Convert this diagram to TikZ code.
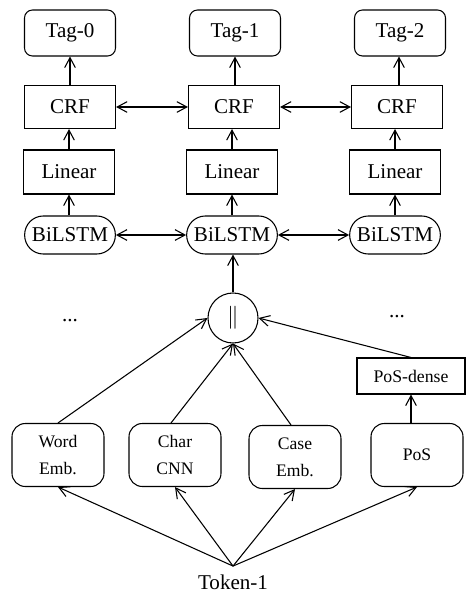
\documentclass[tikz,border=0pt]{standalone}
\usepackage{fontspec}
\setmainfont{Liberation Serif}
\usetikzlibrary{arrows.meta}
\begin{document}
\begin{tikzpicture}[x=0.75pt,y=-0.75pt,line width=0.8pt,
  >={Straight Barb[length=7.5pt,width=8pt,line width=0.8pt]},
  big/.style={font=\fontsize{15.8}{18}\selectfont},
  tagbox/.style={draw,big,rounded corners=6pt,minimum width=68.25pt,minimum height=34.5pt},
  crfbox/.style={draw,big,minimum width=68.25pt,minimum height=32.25pt},
  linbox/.style={draw,big,minimum width=68.25pt,minimum height=33pt},
  lstmbox/.style={draw,big,rounded corners=14pt,minimum width=68pt,minimum height=28.5pt,inner xsep=0pt},
  embbox/.style={draw,rounded corners=10pt,minimum width=69pt,minimum height=47.25pt,align=center,font=\fontsize{13.2}{20}\selectfont},
  densebox/.style={draw,minimum width=81pt,minimum height=27pt,font=\fontsize{13.3}{16}\selectfont},
  catnode/.style={draw,circle,minimum size=37.5pt,inner sep=0pt,font=\fontsize{17}{17}\selectfont},
  dotsnode/.style={big}
]
\useasboundingbox (0,0) rectangle (465,595);
% top rows
\node[tagbox] (tag0) at (70,33) {Tag-0};
\node[tagbox] (tag1) at (235,33) {Tag-1};
\node[tagbox] (tag2) at (400,33) {Tag-2};
\node[crfbox] (crf0) at (70,107) {CRF};
\node[crfbox] (crf1) at (234,107) {CRF};
\node[crfbox] (crf2) at (397,107) {CRF};
\node[linbox] (lin0) at (69,172) {Linear};
\node[linbox] (lin1) at (232,172) {Linear};
\node[linbox] (lin2) at (395,172) {Linear};
\node[lstmbox] (bi0) at (70,235) {BiLSTM};
\node[lstmbox] (bi1) at (232,235) {BiLSTM};
\node[lstmbox] (bi2) at (395,235) {BiLSTM};
% concat
\node[catnode] (cat) at (233,318) {$\|$};
\node[dotsnode] (dl) at (70,321) {...};
\node[dotsnode] (dr) at (397,317) {...};
\node[densebox] (posd) at (411,376) {PoS-dense};
% features
\node[embbox] (word) at (58,455) {Word\\Emb.};
\node[embbox] (char) at (175,455) {Char\\CNN};
\node[embbox] (case) at (295,457) {Case\\Emb.};
\node[embbox] (pos) at (417,455) {PoS};
\node[big,inner ysep=6pt] (tok) at (233,582) {Token-1};
% connectors
\draw[->] (crf0.north -| tag0) -- (tag0.south);
\draw[->] (crf1.north -| tag1) -- (tag1.south);
\draw[->] ([xshift=1.5pt]crf2.north) -- ([xshift=-0.75pt]tag2.south);
\draw[->] (lin0.north) -- (lin0.north |- crf0.south);
\draw[->] (lin1.north) -- (lin1.north |- crf1.south);
\draw[->] (lin2.north) -- (lin2.north |- crf2.south);
\draw[->] (bi0.north -| lin0) -- (lin0.south);
\draw[->] (bi1.north -| lin1) -- (lin1.south);
\draw[->] (bi2.north -| lin2) -- (lin2.south);
\draw[<->] (crf0) -- (crf1);
\draw[<->] (crf1) -- (crf2);
\draw[<->] (bi0) -- (bi1);
\draw[<->] (bi1) -- (bi2);
\draw[->] (cat.north) -- (cat.north |- bi1.south);
\draw[->] (word.north) -- (cat.west);
\draw[->] ([xshift=-3pt]char.north) -- (cat.south);
\draw[->] ([xshift=-3pt]case.north) -- (cat.south);
\draw[->] (posd.north) -- (cat.east);
\draw[->] (pos.north -| posd.north) -- (posd.south);
\draw[->] (tok.north) -- (word.south);
\draw[->] (tok.north) -- (char.south);
\draw[->] (tok.north) -- (case.south);
\draw[->] (tok.north) -- (pos.south);
\end{tikzpicture}
\end{document}
